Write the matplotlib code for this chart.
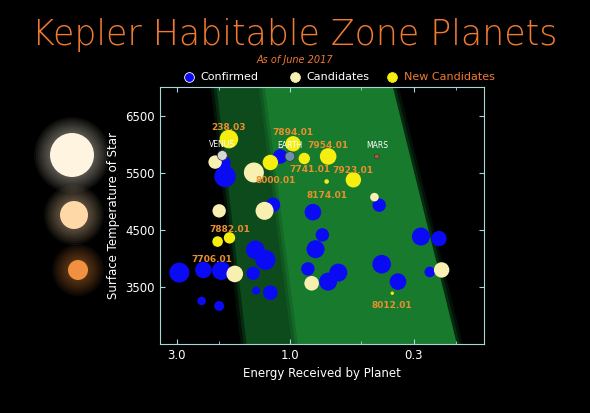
import matplotlib
matplotlib.use("Agg")
import matplotlib.pyplot as plt
import numpy as np
from matplotlib.ticker import FixedLocator, NullFormatter

conf_flux = [2.93,2.32,1.95,2.36,1.99,1.88,1.91,1.40,1.27,1.43,1.39,1.21,1.18,1.10,0.80,0.73,0.78,0.84,0.69,0.625,0.41,0.42,0.35,0.28,0.235,0.257]
conf_temp = [3751,3798,3786,3254,3167,5435,5670,4149,3973,3740,3436,3400,4938,5786,4810,4412,4161,3816,3593,3751,3898,4933,3593,4383,4347,3763]
conf_r = [10,8.3,9.3,4.3,5,10.7,7.3,9.3,10,6.7,4,7.3,7.3,7.3,8.3,6.7,9,6.7,9,9,9.3,6.7,8.3,9,7.7,5.3]

cand_flux = [2.07,1.99,1.71,1.42,1.28,0.81,0.44,0.229]
cand_temp = [5687,4833,3728,5505,4833,3564,5073,3798]
cand_r = [6.7,6.7,8.3,10,9,7.3,4.3,7.7]

new_names = ["238.03","7894.01","7741.01","8000.01","7954.01","7923.01","8174.01","7882.01","7706.01","8012.01"]
new_flux = [1.81,0.97,0.87,1.21,0.69,0.54,0.70,1.80,2.02,0.37]
new_temp = [6090,6008,5750,5680,5786,5377,5347,4360,4295,3390]
new_r = [9.3,7.7,5.7,7.7,8.3,7.7,2.3,5.7,5.3,1.7]

sol_names = ["VENUS","EARTH","MARS"]
sol_flux = [1.93,1.0,0.43]
sol_temp = [5803,5786,5786]

def s(r): return [(1.44*v)**2 for v in r]

fig = plt.figure(figsize=(5.9,4.13), dpi=100, facecolor="black")
ax = fig.add_axes([0.271,0.167,0.549,0.622], facecolor="black")
ax.set_xscale("log")
ax.set_xlim(3.54,0.152)
ax.set_ylim(2500,7000)

def band(xt0,xb0,xt1,xb1,color,alpha=1):
    ax.fill([xt0,xt1,xb1,xb0],[1,1,0,0],transform=ax.transAxes,color=color,alpha=alpha,lw=0,zorder=0)
W=324.
for k,a in [(6,0.25),(3,0.45),(0,1)]:
    band((216.7-160-k)/W,(246.7-160-k)/W,(393-160+k)/W,(457-160+k)/W,"#0d4a1c",a)
for k,a in [(6,0.3),(3,0.5),(0,1)]:
    band((265-160-k)/W,(298-160-k)/W,(393-160-k)/W,(457-160-k)/W,"#187a2c",a)

ax.scatter(conf_flux,conf_temp,s=s(conf_r),color="#0a0af5",lw=0,zorder=3)
ax.scatter(cand_flux,cand_temp,s=s(cand_r),color="#f8f0b0",lw=0,zorder=4)
ax.scatter(new_flux,new_temp,s=s(new_r),color="#f6ee10",lw=0,zorder=5)
ax.scatter(sol_flux,sol_temp,s=[50,50,12],color=["#d8d8d8","#7090b0","#a06040"],edgecolor="#333333",lw=0.5,zorder=6)
for n,x,y in zip(sol_names,sol_flux,sol_temp):
    ax.annotate(n,(x,y),xytext=(0,5),textcoords="offset points",ha="center",va="bottom",color="white",fontsize=5.5,zorder=7)
offs = {"238.03":(0,8),"7894.01":(0,8),"7741.01":(4,-8),"8000.01":(4,-13),"7954.01":(0,8),"7923.01":(0,7),
        "8174.01":(0,-10),"7882.01":(0,6),"7706.01":(-4,-13),"8012.01":(0,-9)}
for n,x,y in zip(new_names,new_flux,new_temp):
    dx,dy=offs[n]
    ax.annotate(n,(x,y),xytext=(dx,dy),textcoords="offset points",ha="center",va="center",color="#e89030",fontsize=6.5,fontweight="bold",zorder=8)

for sp in ax.spines.values(): sp.set_color("#a8d8d8")
ax.set_yticks([3500,4500,5500,6500])
ax.xaxis.set_major_locator(FixedLocator([3.0,1.0,0.3]))
ax.set_xticklabels(["3.0","1.0","0.3"])
ax.xaxis.set_minor_locator(FixedLocator([2.0,0.5,0.2]))
ax.xaxis.set_minor_formatter(NullFormatter())
ax.tick_params(colors="#a8d8d8",labelcolor="white",labelsize=8.5,direction="in",top=True,right=True,which="both")
ax.set_xlabel("Energy Received by Planet",color="white",fontsize=8.5)
ax.set_ylabel("Surface Temperature of Star",color="white",fontsize=8.5)

fig.text(0.5,0.915,"Kepler Habitable Zone Planets",ha="center",va="center",color="#f07a30",fontsize=25,fontweight="light")
fig.text(0.5,0.855,"As of June 2017",ha="center",va="center",color="#f07a30",fontsize=7,style="italic")

for xf,col,lab,tc in [(0.32,"#0a0af5","Confirmed","white"),(0.50,"#f8f0b0","Candidates","white"),(0.665,"#f6ee10","New Candidates","#f07a30")]:
    fig.text(xf+0.02,0.813,lab,color=tc,fontsize=8,va="center")
    fig.add_artist(plt.Line2D([xf],[0.813],marker="o",markersize=7,color=col,mec="white" if col=="#0a0af5" else col,mew=0.6,transform=fig.transFigure))

sax = fig.add_axes([0,0,1,1],facecolor="none"); sax.set_xlim(0,590); sax.set_ylim(413,0); sax.axis("off")
for (x,y,r,c) in [(72,155,22,"#fff4e0"),(74,215,14,"#ffd8a8"),(78,270,10,"#f09040")]:
    for k in range(8,0,-1):
        sax.add_patch(plt.Circle((x,y),r+k*2,color=c,alpha=0.05,lw=0))
    sax.add_patch(plt.Circle((x,y),r,color=c,lw=0))

fig.savefig("out.png",dpi=100,facecolor="black")
